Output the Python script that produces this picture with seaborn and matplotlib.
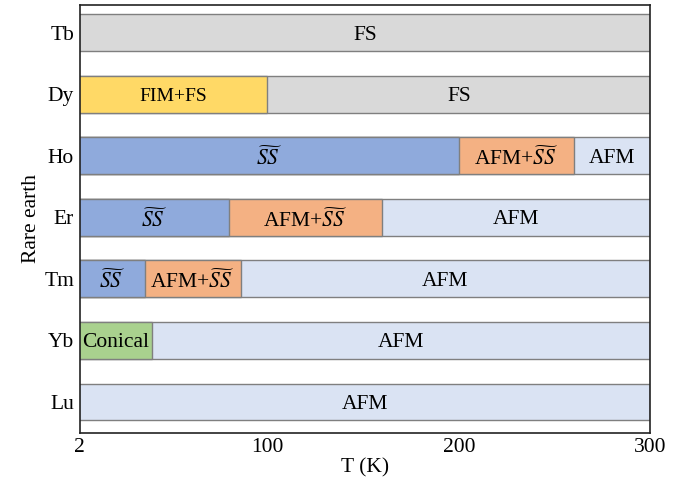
import matplotlib.pyplot as plt
import seaborn as sns
import pandas as pd

# Magnetic phase diagram of rare-earth elements vs temperature
elements = ['Tb', 'Dy', 'Ho', 'Er', 'Tm', 'Yb', 'Lu']

# one entry per segment: element, phase, start T, end T
seg_element = ['Tb', 'Dy', 'Dy', 'Ho', 'Ho', 'Ho', 'Er', 'Er', 'Er',
               'Tm', 'Tm', 'Tm', 'Yb', 'Yb', 'Lu']
seg_phase = ['FS', 'FIM+FS', 'FS', 'SS', 'AFM+SS', 'AFM', 'SS', 'AFM+SS', 'AFM',
             'SS', 'AFM+SS', 'AFM', 'Conical', 'AFM', 'AFM']
seg_start = [2, 2, 100, 2, 200, 260, 2, 80, 160, 2, 36, 86, 2, 40, 2]
seg_end = [300, 100, 300, 200, 260, 300, 80, 160, 300, 36, 86, 300, 40, 300, 300]

xticks = [2, 100, 200, 300]

palette = {'FS': '#d9d9d9', 'FIM+FS': '#ffd966', 'SS': '#8faadc',
           'AFM+SS': '#f4b183', 'AFM': '#dae3f3', 'Conical': '#a9d18e'}
labels = {'FS': 'FS', 'FIM+FS': 'FIM+FS', 'SS': r'$\widetilde{SS}$',
          'AFM+SS': r'AFM+$\widetilde{SS}$', 'AFM': 'AFM', 'Conical': 'Conical'}

df = pd.DataFrame({'element': seg_element, 'phase': seg_phase,
                   'start': seg_start, 'end': seg_end})
df['layer'] = df.groupby('element').cumcount()

sns.set_theme(style='white')
plt.rcParams['font.family'] = ['Liberation Serif', 'DejaVu Serif']
plt.rcParams['mathtext.fontset'] = 'stix'

fig, ax = plt.subplots(figsize=(6.81, 4.83), dpi=100)

# stack by overlaying: last segment (ends at 300) first, then shorter ones on top
for layer in sorted(df['layer'].unique(), reverse=True):
    sub = df[df['layer'] == layer]
    sns.barplot(data=sub, x='end', y='element', hue='phase', order=elements,
                palette=palette, saturation=1, orient='h', dodge=False, width=0.6,
                edgecolor='#7f7f7f', linewidth=1, legend=False, ax=ax)

for _, r in df.iterrows():
    yi = elements.index(r['element'])
    fs = 14 if r['phase'] == 'FIM+FS' else 15.5
    ax.text((r['start'] + r['end']) / 2, yi, labels[r['phase']],
            ha='center', va='center_baseline', fontsize=fs, color='black')

ax.set_xlim(2, 300)
ax.set_ylim(6.5, -0.45)
ax.set_xticks(xticks)
ax.set_xticklabels([str(t) for t in xticks])
ax.tick_params(axis='both', labelsize=15.5, length=0, pad=4, colors='black')
ax.set_xlabel('T (K)', fontsize=15.5, labelpad=1, color='black')
ax.set_ylabel('Rare earth', fontsize=15.5, labelpad=2, color='black')
for s in ax.spines.values():
    s.set_color('#222222')
    s.set_linewidth(1.2)

fig.subplots_adjust(left=0.117, right=0.955, top=0.99, bottom=0.104)
fig.savefig('out.png', dpi=100)
